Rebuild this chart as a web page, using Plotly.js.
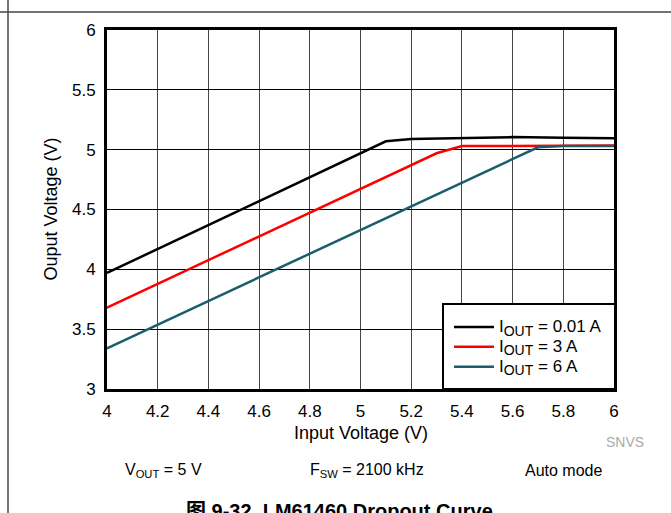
<!DOCTYPE html>
<html>
<head>
<meta charset="utf-8">
<script src="https://cdn.plot.ly/plotly-3.0.1.min.js"></script>
<style>html,body{margin:0;padding:0;background:#fff;}#chart{width:671px;height:513px;}</style>
</head>
<body>
<div id="chart"></div>
<script>
const xLow = [4.0, 5.1, 5.2, 5.4, 5.5, 5.6, 5.8, 6.0];
const yLow = [3.97, 5.07, 5.09, 5.10, 5.105, 5.105, 5.10, 5.095];
const xMid = [4.0, 5.3, 5.4, 5.6, 5.8, 6.0];
const yMid = [3.68, 4.97, 5.03, 5.03, 5.03, 5.035];
const xHigh = [4.0, 5.7, 5.8, 6.0];
const yHigh = [3.34, 5.02, 5.03, 5.03];
const names = ['0.01 A', '3 A', '6 A'];
const colors = ['#000000', '#ff0000', '#1a5d6c'];
const xTicks = [4, 4.2, 4.4, 4.6, 4.8, 5, 5.2, 5.4, 5.6, 5.8, 6];
const xTickText = ['4', '4.2', '4.4', '4.6', '4.8', '5', '5.2', '5.4', '5.6', '5.8', '6'];
const yTicks = [3, 3.5, 4, 4.5, 5, 5.5, 6];
const yTickText = ['3', '3.5', '4', '4.5', '5', '5.5', '6'];

const font = 'Liberation Sans, Arial, sans-serif';
const traces = [[xLow, yLow], [xMid, yMid], [xHigh, yHigh]].map((d, i) => ({
  x: d[0], y: d[1], type: 'scatter', mode: 'lines',
  name: '<span style="font-size:17px">I<sub><span style="font-size:14px">OUT</span></sub> = ' + names[i] + '</span>',
  line: {color: colors[i], width: 2.5}
}));

// pixel -> paper helpers for decorations
const px = v => (v - 107) / 507;
const py = v => (389 - v) / 359;

const layout = {
  width: 671, height: 513,
  margin: {l: 107, r: 57, t: 30, b: 124},
  paper_bgcolor: '#ffffff', plot_bgcolor: '#ffffff',
  font: {family: font, size: 16, color: '#000'},
  showlegend: true,
  legend: {
    x: px(449), y: py(347), xanchor: 'left', yanchor: 'middle',
    bgcolor: 'rgba(0,0,0,0)', borderwidth: 0,
    font: {family: font, size: 13, color: '#000'},
    tracegroupgap: 0, itemwidth: 40
  },
  xaxis: {
    range: [4, 6], tickvals: xTicks, ticktext: xTickText,
    showgrid: true, gridcolor: '#444', gridwidth: 1,
    showline: true, linecolor: '#000', linewidth: 3, mirror: true,
    zeroline: false, ticks: '', ticklen: 0, ticklabelstandoff: 5,
    tickfont: {family: font, size: 17, color: '#000'}
  },
  yaxis: {
    range: [3, 6], tickvals: yTicks, ticktext: yTickText,
    showgrid: true, gridcolor: '#000', gridwidth: 1,
    showline: true, linecolor: '#000', linewidth: 3, mirror: true,
    zeroline: false, ticks: '', ticklen: 0, ticklabelstandoff: 5,
    tickfont: {family: font, size: 17, color: '#000'}
  },
  shapes: [
    {type: 'rect', xref: 'paper', yref: 'paper', x0: px(443), x1: px(615), y0: py(389), y1: py(304),
     fillcolor: '#ffffff', layer: 'above', line: {color: '#000', width: 2}},
    {type: 'line', xref: 'paper', yref: 'paper', x0: px(8), x1: px(8), y0: -0.4, y1: 1.2,
     line: {color: '#777', width: 2}},
    {type: 'line', xref: 'paper', yref: 'paper', x0: -0.22, x1: 1.12, y0: py(12), y1: py(12),
     line: {color: '#444', width: 1.5}}
  ],
  annotations: [
    {text: 'Input Voltage (V)', xref: 'paper', yref: 'paper', x: 0.5, y: py(433),
     showarrow: false, xanchor: 'center', yanchor: 'middle', font: {family: font, size: 18, color: '#000'}},
    {text: 'Ouput Voltage (V)', xref: 'paper', yref: 'paper', x: px(50), y: 0.5, textangle: -90,
     showarrow: false, xanchor: 'center', yanchor: 'middle', font: {family: font, size: 18, color: '#000'}},
    {text: 'SNVS', xref: 'paper', yref: 'paper', x: px(625), y: py(442),
     showarrow: false, xanchor: 'center', yanchor: 'middle', font: {family: font, size: 14, color: '#aaa'}},
    {text: 'V<sub>OUT</sub> = 5 V', xref: 'paper', yref: 'paper', x: px(163), y: py(470),
     showarrow: false, xanchor: 'center', yanchor: 'middle', font: {family: font, size: 16, color: '#000'}},
    {text: 'F<sub>SW</sub> = 2100 kHz', xref: 'paper', yref: 'paper', x: px(367), y: py(470),
     showarrow: false, xanchor: 'center', yanchor: 'middle', font: {family: font, size: 16, color: '#000'}},
    {text: 'Auto mode', xref: 'paper', yref: 'paper', x: px(563), y: py(470),
     showarrow: false, xanchor: 'center', yanchor: 'middle', font: {family: font, size: 16, color: '#000'}},
    {text: '<b>图 9-32. LM61460 Dropout Curve</b>', xref: 'paper', yref: 'paper', x: px(339), y: py(511),
     showarrow: false, xanchor: 'center', yanchor: 'middle', font: {family: 'Liberation Sans, Noto Sans CJK SC, sans-serif', size: 20, color: '#000'}}
  ]
};

Plotly.newPlot('chart', traces, layout, {displayModeBar: false, staticPlot: true});
</script>
</body>
</html>
